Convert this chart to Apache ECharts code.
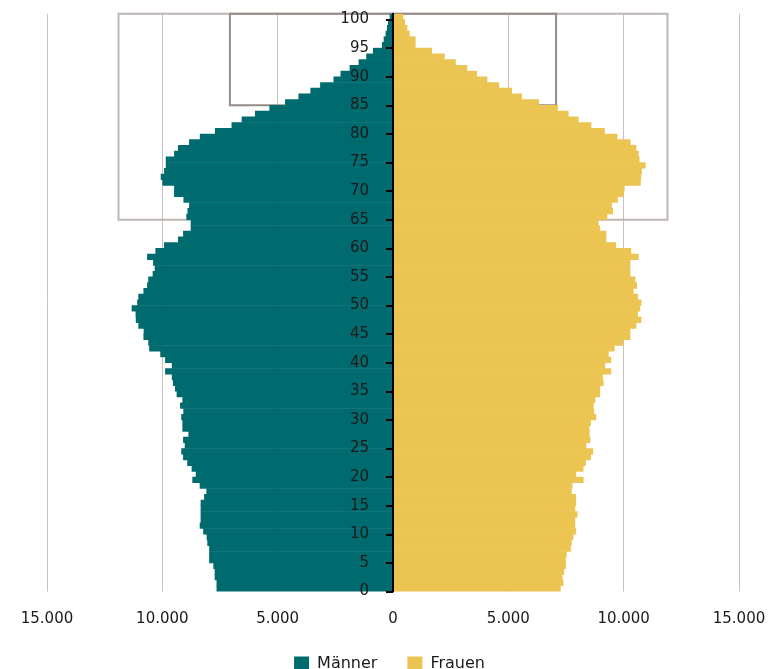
<!DOCTYPE html>
<html>
<head>
<meta charset="utf-8">
<script src="https://cdn.jsdelivr.net/npm/echarts@6/dist/echarts.min.js"></script>
<style>
html,body{margin:0;padding:0;background:#fff;}
#chart{width:779px;height:669px;}
</style>
</head>
<body>
<div id="chart"></div>
<script>
// Ages 0..100 (one bar per year of age)
const ages = Array.from({length: 101}, (_, i) => i);

// Population by single year of age
const maenner = [
  7650, 7650, 7730, 7730, 7790, 7970, 7970, 7970, 8050, 8080,
  8230, 8380, 8340, 8340, 8340, 8340, 8190, 8090, 8380, 8700,
  8550, 8730, 8920, 9100, 9180, 9030, 9100, 8870, 9130, 9130,
  9180, 9090, 9230, 9130, 9380, 9450, 9540, 9590, 9880, 9590,
  9880, 10090, 10570, 10610, 10820, 10810, 11040, 11150, 11160, 11330,
  11090, 11040, 10820, 10660, 10610, 10420, 10330, 10400, 10660, 10300,
  9930, 9320, 9100, 8770, 8770, 8960, 8910, 8840, 9085, 9490,
  9490, 10000, 10070, 9925, 9850, 9850, 9490, 9320, 8840, 8375,
  7720, 7000, 6560, 5985, 5360, 4680, 4100, 3580, 3160, 2580,
  2275, 1880, 1490, 1160, 870, 480, 405, 320, 260, 217,
  145
];
const frauen = [
  7270, 7390, 7350, 7420, 7500, 7490, 7530, 7710, 7750, 7820,
  7940, 7900, 7900, 8000, 7900, 7940, 7940, 7750, 7780, 8260,
  7940, 8260, 8360, 8580, 8680, 8380, 8560, 8520, 8520, 8580,
  8810, 8720, 8700, 8770, 8980, 8980, 9130, 9100, 9460, 9200,
  9460, 9350, 9610, 9970, 10290, 10290, 10550, 10770, 10620, 10720,
  10770, 10620, 10430, 10580, 10510, 10290, 10290, 10290, 10650, 10330,
  9670, 9250, 9250, 8980, 8910, 9290, 9540, 9490, 9750, 10000,
  10040, 10740, 10760, 10790, 10950, 10690, 10650, 10550, 10300, 9730,
  9180, 8600, 8050, 7610, 7150, 6330, 5590, 5160, 4600, 4090,
  3640, 3220, 2720, 2240, 1690, 980, 980, 720, 620, 520,
  450
];

// Axis ticks
const ageTicks = [0,5,10,15,20,25,30,35,40,45,50,55,60,65,70,75,80,85,90,95,100];

// Highlight boxes: [xMin, xMax, ageFrom, ageTo]
const boxOuter = [-11900, 11900, 65, 101.2];
const boxInner = [-7070, 7070, 85, 101.2];

const COL_M = '#006B6F';
const COL_F = '#EBC452';
const FONT = 'DejaVu Sans';

const GRID_LEFT = 47, GRID_RIGHT = 40, W = 779;
// place the age axis on the x=0 position of the value axis
const zeroOffset = -((W - GRID_LEFT - GRID_RIGHT) / 2);

function fmt(v) {
  const a = Math.abs(Math.round(v));
  return a.toString().replace(/\B(?=(\d{3})+(?!\d))/g, '.');
}

const chart = echarts.init(document.getElementById('chart'), null, {renderer: 'canvas'});
chart.setOption({
  animation: false,
  backgroundColor: '#ffffff',
  grid: {left: GRID_LEFT, right: GRID_RIGHT, top: 13.8, bottom: 77.5, containLabel: false, outerBoundsMode: 'none'},
  legend: {
    data: ['Männer', 'Frauen'],
    left: 'center',
    top: 651,
    icon: 'rect',
    itemWidth: 15,
    itemHeight: 15,
    itemGap: 30,
    textStyle: {fontFamily: FONT, fontSize: 16, color: '#1a1a1a', padding: [0, 0, 0, 3]}
  },
  xAxis: {
    type: 'value',
    min: -15000,
    max: 15000,
    interval: 5000,
    axisLine: {show: false, onZero: false},
    axisTick: {show: false},
    splitLine: {show: true, lineStyle: {color: '#c9c1bb', width: 1}},
    axisLabel: {
      formatter: fmt,
      margin: 20,
      fontFamily: FONT,
      fontSize: 15,
      color: '#1a1a1a'
    }
  },
  yAxis: [
    {
      type: 'category',
      data: ages,
      boundaryGap: true,
      show: false,
      axisLine: {show: false, onZero: false}
    },
    {
      type: 'value',
      position: 'left',
      offset: zeroOffset,
      min: 0,
      max: 101,
      z: 10,
      axisLine: {show: true, onZero: false, lineStyle: {color: '#000', width: 2}},
      axisTick: {show: true, inside: false, length: 7, customValues: ageTicks, lineStyle: {color: '#000', width: 2}},
      splitLine: {show: false},
      axisLabel: {
        customValues: ageTicks,
        margin: 24,
        fontFamily: FONT,
        fontSize: 15,
        color: '#1a1a1a'
      }
    }
  ],
  series: [
    {
      name: 'Männer',
      type: 'bar',
      yAxisIndex: 0,
      stack: 'pop',
      barWidth: 6.3,
      itemStyle: {color: COL_M},
      data: maenner.map(v => -v)
    },
    {
      name: 'Frauen',
      type: 'bar',
      yAxisIndex: 0,
      stack: 'pop',
      barWidth: 6.3,
      itemStyle: {color: COL_F},
      data: frauen
    },
    {
      name: 'boxes',
      type: 'line',
      yAxisIndex: 1,
      data: [],
      clip: false,
      z: 5,
      markArea: {
        silent: true,
        data: [
          [
            {coord: [boxOuter[0], boxOuter[2]], itemStyle: {color: 'rgba(0,0,0,0)', borderColor: '#bdb6b2', borderWidth: 2}},
            {coord: [boxOuter[1], boxOuter[3]]}
          ],
          [
            {coord: [boxInner[0], boxInner[2]], itemStyle: {color: 'rgba(0,0,0,0)', borderColor: '#958c88', borderWidth: 2}},
            {coord: [boxInner[1], boxInner[3]]}
          ]
        ]
      }
    }
  ]
});
</script>
</body>
</html>
